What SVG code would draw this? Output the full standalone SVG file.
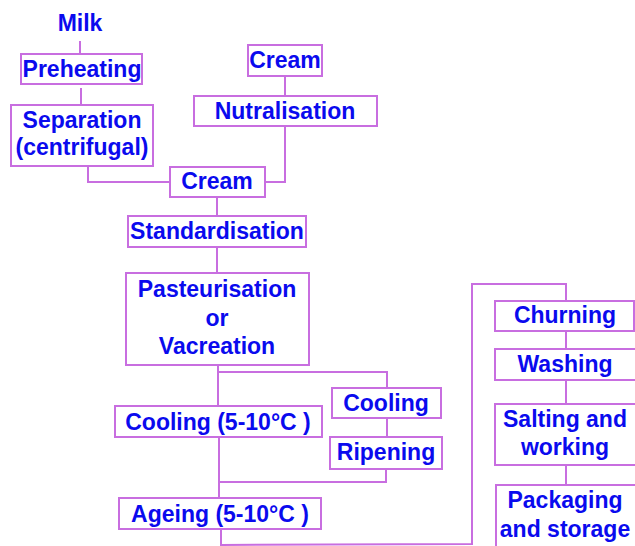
<svg xmlns="http://www.w3.org/2000/svg" width="635" height="546" viewBox="0 0 635 546">
<style>
.b{fill:#fff;stroke:#c86ee0;stroke-width:2}
.c{fill:none;stroke:#c86ee0;stroke-width:2}
.t{font-family:"Liberation Sans",Arial,sans-serif;font-weight:bold;font-size:23px;fill:#0a0aee;text-anchor:middle}
</style>
<rect width="635" height="546" fill="#fff"/>
<g id="connectors">
<line class="c" x1="80" y1="41" x2="80" y2="54"/>
<line class="c" x1="81" y1="88" x2="81" y2="105"/>
<polyline class="c" points="88,166 88,182 170,182"/>
<line class="c" x1="285" y1="76" x2="285" y2="96"/>
<polyline class="c" points="285,126 285,182 265,182"/>
<line class="c" x1="217" y1="197" x2="217" y2="216"/>
<line class="c" x1="217" y1="247" x2="217" y2="273"/>
<line class="c" x1="218" y1="365" x2="218" y2="406"/>
<polyline class="c" points="218,372 387,372 387,388"/>
<line class="c" x1="387" y1="418" x2="387" y2="437"/>
<polyline class="c" points="386,469 386,482 219,482"/>
<line class="c" x1="219" y1="437" x2="219" y2="498"/>
<polyline class="c" points="221,529 221,546"/>
<polyline class="c" points="221,545 472,544 472,284 566,284 566,301"/>
<line class="c" x1="566" y1="331" x2="566" y2="349"/>
<line class="c" x1="566" y1="380" x2="566" y2="404"/>
<line class="c" x1="566" y1="465" x2="566" y2="485"/>
</g>
<g id="milk"><text class="t" x="80" y="31">Milk</text></g>
<g id="preheating"><rect class="b" x="21" y="54" width="121" height="30"/><text class="t" x="82" y="77">Preheating</text></g>
<g id="separation"><rect class="b" x="11" y="105" width="142" height="61"/><text class="t" x="82" y="128">Separation</text><text class="t" x="82" y="155">(centrifugal)</text></g>
<g id="cream-top"><rect class="b" x="248" y="45" width="74" height="31"/><text class="t" x="285" y="68">Cream</text></g>
<g id="nutralisation"><rect class="b" x="194" y="96" width="183" height="30"/><text class="t" x="285" y="119">Nutralisation</text></g>
<g id="cream"><rect class="b" x="170" y="167" width="95" height="30"/><text class="t" x="217" y="189">Cream</text></g>
<g id="standardisation"><rect class="b" x="128" y="216" width="178" height="31"/><text class="t" x="217" y="239">Standardisation</text></g>
<g id="pasteurisation"><rect class="b" x="126" y="273" width="183" height="92"/><text class="t" x="217" y="297">Pasteurisation</text><text class="t" x="217" y="326">or</text><text class="t" x="217" y="354">Vacreation</text></g>
<g id="cooling-main"><rect class="b" x="115" y="406" width="207" height="31"/><text class="t" x="218" y="430">Cooling (5-10°C )</text></g>
<g id="cooling-side"><rect class="b" x="332" y="388" width="109" height="30"/><text class="t" x="386" y="411">Cooling</text></g>
<g id="ripening"><rect class="b" x="330" y="437" width="112" height="32"/><text class="t" x="386" y="460">Ripening</text></g>
<g id="ageing"><rect class="b" x="119" y="498" width="202" height="31"/><text class="t" x="220" y="522">Ageing (5-10°C )</text></g>
<g id="churning"><rect class="b" x="495" y="301" width="139" height="30"/><text class="t" x="565" y="323">Churning</text></g>
<g id="washing"><rect class="b" x="495" y="349" width="145" height="31"/><text class="t" x="565" y="372">Washing</text></g>
<g id="salting"><rect class="b" x="495" y="404" width="145" height="61"/><text class="t" x="565" y="427">Salting and</text><text class="t" x="565" y="455">working</text></g>
<g id="packaging"><rect class="b" x="496" y="485" width="144" height="70"/><text class="t" x="565" y="508">Packaging</text><text class="t" x="565" y="537">and storage</text></g>
</svg>
